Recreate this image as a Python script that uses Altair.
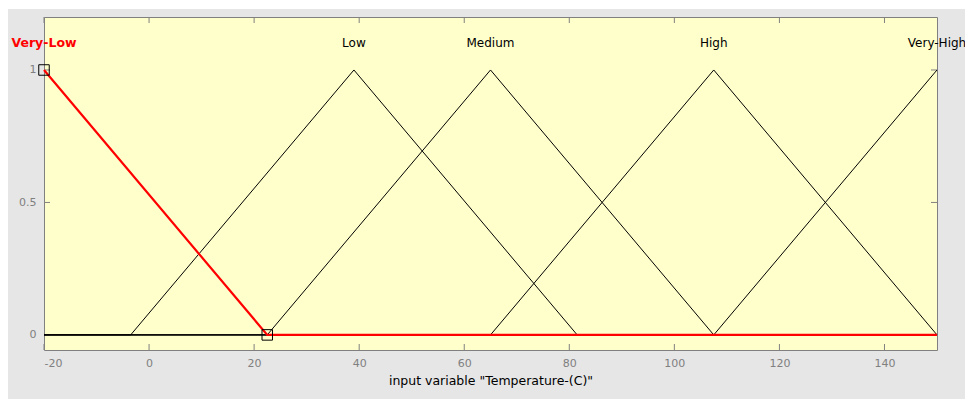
import altair as alt
import pandas as pd

# ---- data ----
mf_names = ["Very-Low", "Low", "Medium", "High", "Very-High"]
mf_params = {
    "Very-Low": [-62.5, -20, 22.5],
    "Low": [-3.5, 39, 81.5],
    "Medium": [22.5, 65, 107.5],
    "High": [65, 107.5, 150],
    "Very-High": [107.5, 150, 192.5],
}
x_range = [-20, 150]
x_ticks = [-20, 0, 20, 40, 60, 80, 100, 120, 140]
y_ticks = [0, 0.5, 1]
label_y = 1.1
selected_mf = "Very-Low"
axis_title = 'input variable "Temperature-(C)"'

W, H = 893, 333


def trimf(v, a, b, c):
    if v <= a or v >= c:
        return 0.0 if not (v == b) else 1.0
    if v <= b:
        return (v - a) / (b - a) if b != a else 1.0
    return (c - v) / (c - b) if c != b else 1.0


rows = []
for name in mf_names:
    a, b, c = mf_params[name]
    pts = sorted(set([x_range[0], x_range[1]] + [p for p in (a, b, c) if x_range[0] <= p <= x_range[1]]))
    for i, p in enumerate(pts):
        rows.append({"name": name, "x": p, "y": trimf(p, a, b, c), "i": i})
lines = pd.DataFrame(rows)
black = lines[lines["name"] != selected_mf]
red = lines[lines["name"] == selected_mf]

a, b, c = mf_params[selected_mf]
sq = pd.DataFrame({"x": [b, c], "y": [1.0, 0.0]})

labels = pd.DataFrame({"name": mf_names, "x": [mf_params[n][1] for n in mf_names], "y": [label_y] * len(mf_names)})
lab_black = labels[labels["name"] != selected_mf]
lab_red = labels[labels["name"] == selected_mf]

xt = pd.DataFrame({"x": x_ticks})
yt = pd.DataFrame({"y": y_ticks})
one = pd.DataFrame({"k": [0]})

xs = alt.Scale(domain=x_range, nice=False, zero=False)
ys = alt.Scale(domain=[-0.057, 1.2], nice=False, zero=False)

xaxis = alt.Axis(values=x_ticks, labelExpr="datum.value + ''", tickSize=0, domain=False, grid=False,
                 labelColor="#808080", labelFont="DejaVu Sans", labelFontSize=11, labelPadding=7,
                 title=axis_title, titleFont="DejaVu Sans", titleFontSize=12.5, titleFontWeight="normal",
                 titleColor="#000000", titlePadding=6)
yaxis = alt.Axis(values=y_ticks, format="~g", tickSize=0, domain=False, grid=False,
                 labelColor="#808080", labelFont="DejaVu Sans", labelFontSize=11, labelPadding=8, title=None)

X = alt.X("x:Q", scale=xs, axis=xaxis)
Y = alt.Y("y:Q", scale=ys, axis=yaxis)

strips = alt.layer(
    alt.Chart(one).mark_rect(color="white").encode(x=alt.value(-44), x2=alt.value(W + 28), y=alt.value(-17), y2=alt.value(-8)),
    alt.Chart(one).mark_rect(color="white").encode(x=alt.value(-44), x2=alt.value(-36), y=alt.value(-17), y2=alt.value(H + 49)),
)

black_lines = alt.Chart(black).mark_line(color="black", strokeWidth=1).encode(
    x=X, y=Y, detail="name:N", order="i:Q")
red_line = alt.Chart(red).mark_line(color="#ff0000", strokeWidth=2.2).encode(x=X, y=Y, order="i:Q")
squares = alt.Chart(sq).mark_point(shape="square", filled=False, color="black", size=110, strokeWidth=1, opacity=1).encode(x=X, y=Y)

txt_black = alt.Chart(lab_black).mark_text(font="DejaVu Sans", fontSize=12, color="black", baseline="middle").encode(
    x=X, y=Y, text="name:N")
txt_red = alt.Chart(lab_red).mark_text(font="DejaVu Sans", fontSize=12.5, fontWeight="bold", color="#ff0000", baseline="middle").encode(
    x=X, y=Y, text="name:N")

tick_col = "#808080"
tb = alt.Chart(xt).mark_rule(color=tick_col).encode(x=X, y=alt.value(H - 6), y2=alt.value(H))
tt = alt.Chart(xt).mark_rule(color=tick_col).encode(x=X, y=alt.value(0), y2=alt.value(6))
tl = alt.Chart(yt).mark_rule(color=tick_col).encode(y=Y, x=alt.value(0), x2=alt.value(6))
tr = alt.Chart(yt).mark_rule(color=tick_col).encode(y=Y, x=alt.value(W - 6), x2=alt.value(W))

chart = alt.layer(
    strips, tb, tt, tl, tr, black_lines, red_line, squares, txt_black, txt_red
).properties(
    width=W, height=H,
    autosize=alt.AutoSizeParams(type="none"),
    padding={"left": 44, "top": 17, "right": 28, "bottom": 49},
    background="#e6e6e6",
).configure_view(fill="#ffffcc", stroke="#808080", strokeWidth=1)

chart.save("out.html", embed_options={"renderer": "svg", "actions": False})
